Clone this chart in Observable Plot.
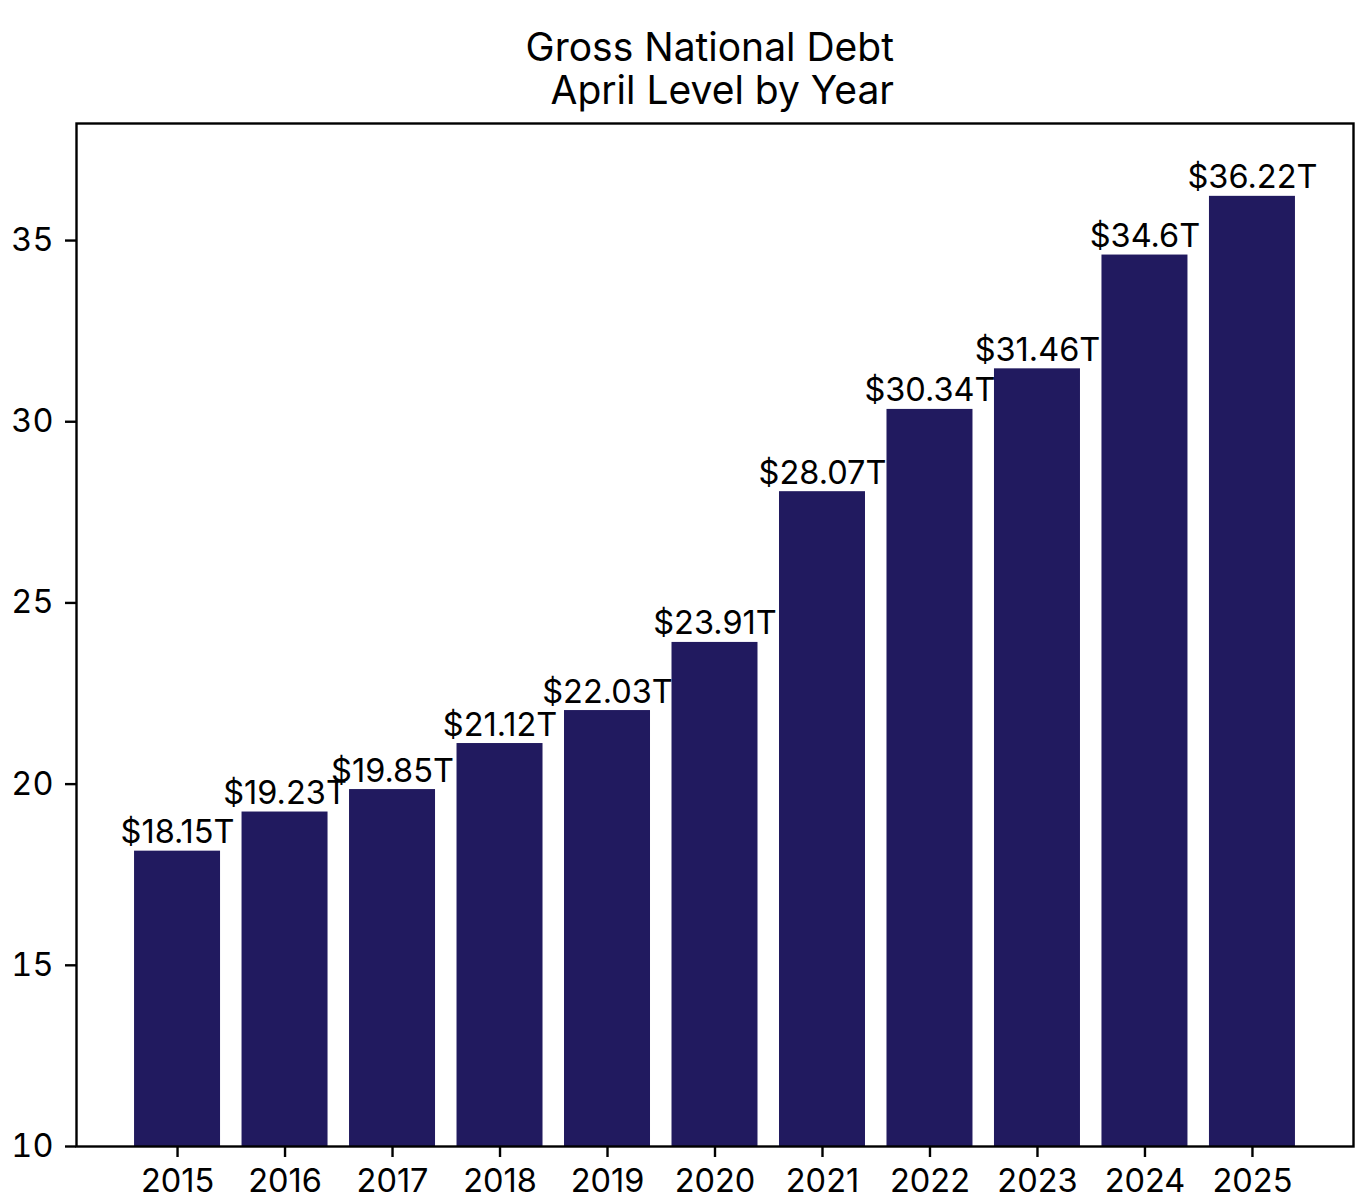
<!DOCTYPE html>
<html>
<head>
<meta charset="utf-8">
<script src="https://cdn.jsdelivr.net/npm/d3@7"></script>
<script src="https://cdn.jsdelivr.net/npm/@observablehq/plot@0.6"></script>
<style>
  html, body { margin: 0; padding: 0; background: #fff; }
  #wrap { position: relative; width: 1362px; height: 1200px; font-family: Inter, "Noto Sans", sans-serif; }
  #title { position: absolute; left: 0; top: 25px; width: 894px; text-align: right; font-size: 39px; line-height: 43px; color: #000; }
  #chart { position: absolute; left: 0; top: 0; }
</style>
</head>
<body>
<div id="wrap">
  <div id="chart"></div>
  <div id="title">Gross National Debt<br>April Level by Year</div>
</div>
<script>
const years = ["2015","2016","2017","2018","2019","2020","2021","2022","2023","2024","2025"];
const values = [18.15, 19.23, 19.85, 21.12, 22.03, 23.91, 28.07, 30.34, 31.46, 34.6, 36.22];
const labels = ["$18.15T","$19.23T","$19.85T","$21.12T","$22.03T","$23.91T","$28.07T","$30.34T","$31.46T","$34.6T","$36.22T"];
const yTicks = [10, 15, 20, 25, 30, 35];

const data = years.map((y, i) => ({year: y, value: values[i], label: labels[i]}));

const chart = Plot.plot({
  width: 1362,
  height: 1200,
  marginLeft: 76,
  marginRight: 9,
  marginTop: 123,
  marginBottom: 54,
  style: {fontFamily: "Inter, 'Noto Sans', sans-serif", fontSize: "32px", color: "#000", background: "#fff"},
  x: {domain: years, paddingInner: 0.2, paddingOuter: 0.54, round: false, label: null},
  y: {domain: [10, 38.23], label: null},
  marks: [
    Plot.barY(data, {x: "year", y1: 10, y2: "value", fill: "#211a5f"}),
    Plot.text(data, {x: "year", y: "value", text: "label", dy: -8, lineAnchor: "bottom", fontSize: 32.5, fill: "#000"}),
    Plot.axisX({ticks: years, tickSize: 11, tickPadding: 11, strokeWidth: 2.4, fontSize: 32.5, label: null}),
    Plot.axisY({ticks: yTicks, tickSize: 11, tickPadding: 12, strokeWidth: 2.4, fontSize: 32.5, label: null}),
    Plot.frame({stroke: "#000", strokeWidth: 2.4})
  ]
});
document.getElementById("chart").appendChild(chart);
</script>
</body>
</html>
